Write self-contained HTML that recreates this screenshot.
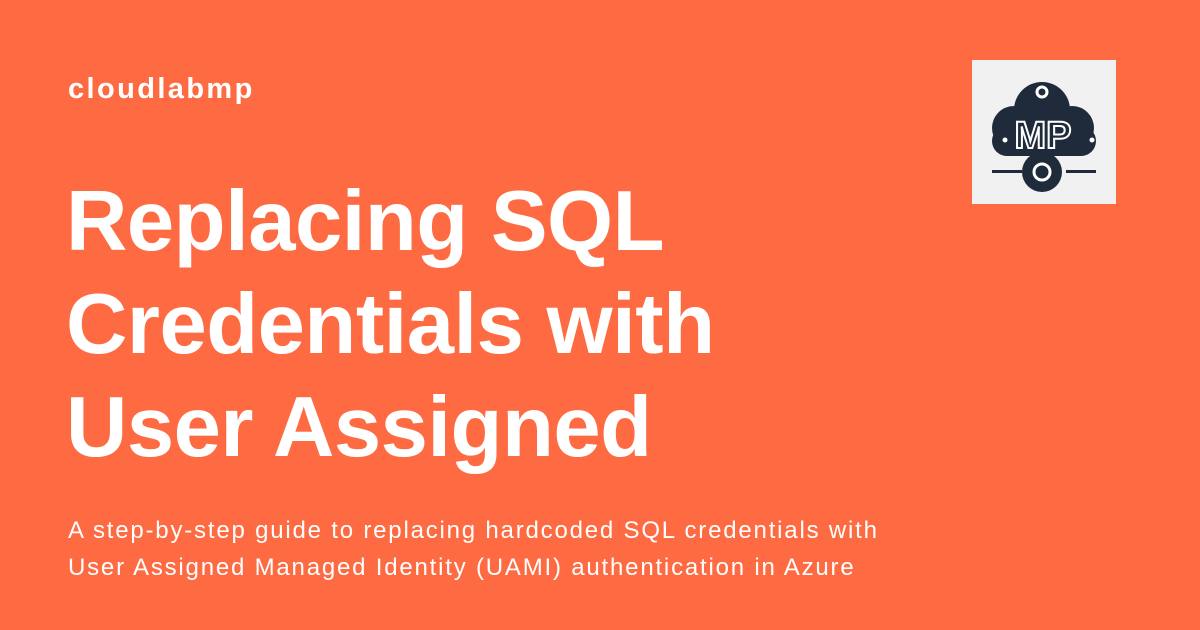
<!DOCTYPE html>
<html><head><style>
body{margin:0;width:1200px;height:630px;background:#fe6b42;font-family:"Liberation Sans",sans-serif;color:#fff;position:relative;overflow:hidden}
.brand{position:absolute;left:68px;top:73px;font-size:29px;font-weight:bold;letter-spacing:2.4px}
h1{position:absolute;left:66px;top:170px;margin:0;font-size:85px;line-height:103px;font-weight:bold;letter-spacing:-0.5px}
.sub{position:absolute;left:68px;top:512px;font-size:24px;line-height:37px;letter-spacing:1.8px;white-space:nowrap}
.logo{position:absolute;left:972px;top:60px;width:144px;height:144px;background:#f1f1f1}
</style></head><body>
<div class="brand">cloudlabmp</div>
<h1>Replacing SQL<br>Credentials with<br>User Assigned</h1>
<div class="sub">A step-by-step guide to replacing hardcoded SQL credentials with<br>User Assigned Managed Identity (UAMI) authentication in Azure</div>
<div class="logo"><svg width="144" height="144" viewBox="0 0 144 144">
<g fill="#1f2b3a">
<circle cx="70" cy="50" r="28"/><circle cx="42" cy="68" r="22"/><circle cx="100" cy="68" r="22"/>
<rect x="20" y="66" width="104" height="30" rx="15"/>
<circle cx="70" cy="112" r="20"/>
</g>
<circle cx="70" cy="32" r="5" fill="none" stroke="#fff" stroke-width="3"/>
<circle cx="70" cy="112" r="8" fill="none" stroke="#fff" stroke-width="3"/>
<circle cx="33" cy="80" r="2.5" fill="#fff"/><circle cx="120" cy="80" r="2.5" fill="#fff"/>
<text x="71" y="88" text-anchor="middle" font-family="Liberation Sans" font-weight="bold" font-size="38" fill="none" stroke="#fff" stroke-width="2">MP</text>
<g fill="#1f2b3a"><rect x="20" y="110" width="30" height="3"/><rect x="94" y="110" width="30" height="3"/></g>
</svg></div>
</body></html>
